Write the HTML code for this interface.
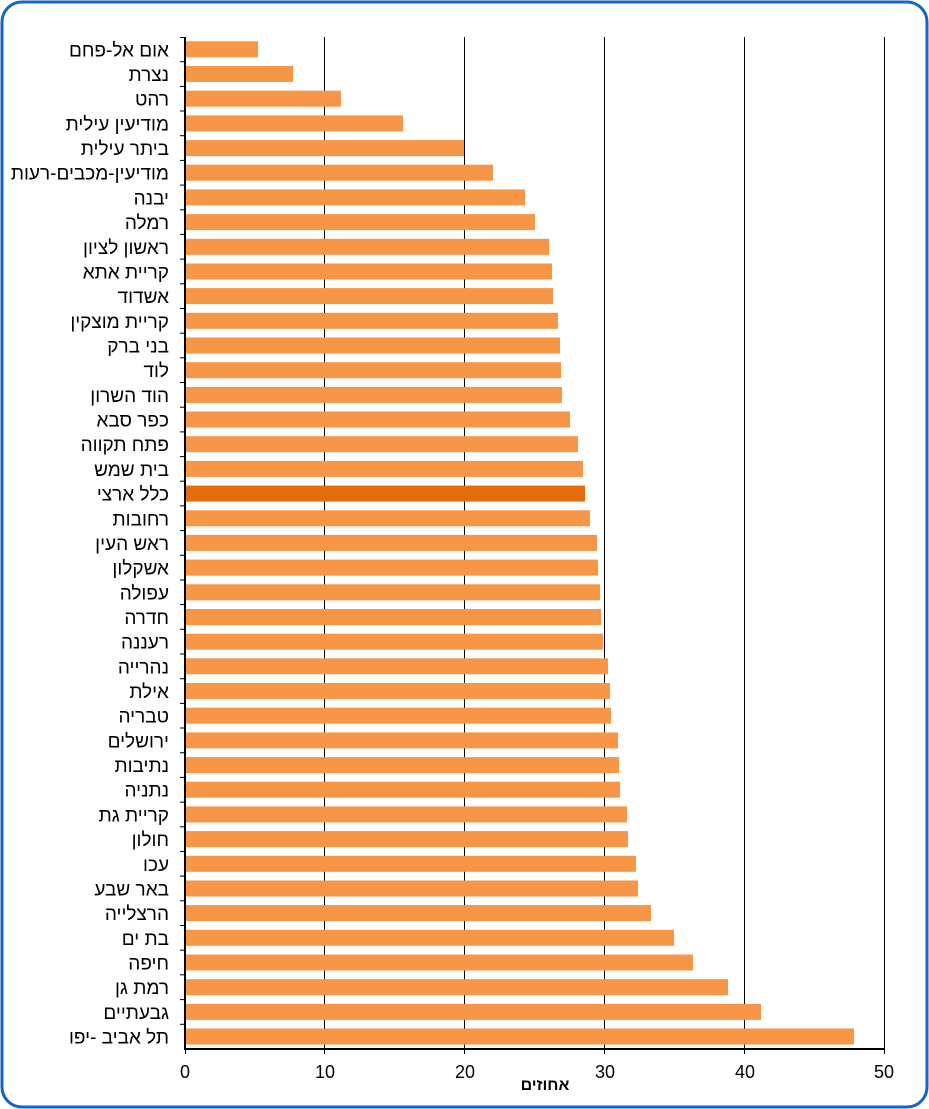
<!DOCTYPE html>
<html><head><meta charset="utf-8"><style>
html,body{margin:0;padding:0;background:#fff;}
svg{display:block;font-family:"Liberation Sans","Noto Sans CJK SC",sans-serif;}
</style></head><body>
<svg width="929" height="1109" viewBox="0 0 929 1109" xmlns="http://www.w3.org/2000/svg">
<rect x="2" y="2" width="925" height="1105" rx="20" ry="20" fill="#fff" stroke="#1565c8" stroke-width="3"/>
<g stroke="#000" stroke-width="1">
<line x1="324.5" y1="37" x2="324.5" y2="1049"/>
<line x1="464.5" y1="37" x2="464.5" y2="1049"/>
<line x1="604.5" y1="37" x2="604.5" y2="1049"/>
<line x1="744.5" y1="37" x2="744.5" y2="1049"/>
<line x1="884.5" y1="37" x2="884.5" y2="1049"/>
</g>
<g fill="#F79646">
<rect x="185" y="41.3" width="73" height="16"/>
<rect x="185" y="66.0" width="108" height="16"/>
<rect x="185" y="90.7" width="156" height="16"/>
<rect x="185" y="115.4" width="218" height="16"/>
<rect x="185" y="140.1" width="279" height="16"/>
<rect x="185" y="164.7" width="308" height="16"/>
<rect x="185" y="189.4" width="340" height="16"/>
<rect x="185" y="214.1" width="350" height="16"/>
<rect x="185" y="238.8" width="364" height="16"/>
<rect x="185" y="263.5" width="367" height="16"/>
<rect x="185" y="288.1" width="368" height="16"/>
<rect x="185" y="312.8" width="373" height="16"/>
<rect x="185" y="337.5" width="375" height="16"/>
<rect x="185" y="362.2" width="376" height="16"/>
<rect x="185" y="386.9" width="377" height="16"/>
<rect x="185" y="411.5" width="385" height="16"/>
<rect x="185" y="436.2" width="393" height="16"/>
<rect x="185" y="460.9" width="398" height="16"/>
<rect x="185" y="485.6" width="400" height="16" fill="#E46C0A"/>
<rect x="185" y="510.3" width="405" height="16"/>
<rect x="185" y="534.9" width="412" height="16"/>
<rect x="185" y="559.6" width="413" height="16"/>
<rect x="185" y="584.3" width="415" height="16"/>
<rect x="185" y="609.0" width="416" height="16"/>
<rect x="185" y="633.7" width="418" height="16"/>
<rect x="185" y="658.3" width="423" height="16"/>
<rect x="185" y="683.0" width="425" height="16"/>
<rect x="185" y="707.7" width="426" height="16"/>
<rect x="185" y="732.4" width="433" height="16"/>
<rect x="185" y="757.1" width="434" height="16"/>
<rect x="185" y="781.7" width="435" height="16"/>
<rect x="185" y="806.4" width="442" height="16"/>
<rect x="185" y="831.1" width="443" height="16"/>
<rect x="185" y="855.8" width="451" height="16"/>
<rect x="185" y="880.5" width="453" height="16"/>
<rect x="185" y="905.1" width="466" height="16"/>
<rect x="185" y="929.8" width="489" height="16"/>
<rect x="185" y="954.5" width="508" height="16"/>
<rect x="185" y="979.2" width="543" height="16"/>
<rect x="185" y="1003.9" width="576" height="16"/>
<rect x="185" y="1028.5" width="669" height="16"/>
</g>
<g stroke="#000" stroke-width="2">
<line x1="185" y1="37" x2="185" y2="1050"/>
<line x1="184" y1="1049" x2="885" y2="1049"/>
</g>
<g stroke="#000" stroke-width="1">
<line x1="180" y1="37.5" x2="185" y2="37.5"/>
<line x1="180" y1="61.7" x2="185" y2="61.7"/>
<line x1="180" y1="86.4" x2="185" y2="86.4"/>
<line x1="180" y1="111.0" x2="185" y2="111.0"/>
<line x1="180" y1="135.7" x2="185" y2="135.7"/>
<line x1="180" y1="160.4" x2="185" y2="160.4"/>
<line x1="180" y1="185.1" x2="185" y2="185.1"/>
<line x1="180" y1="209.8" x2="185" y2="209.8"/>
<line x1="180" y1="234.4" x2="185" y2="234.4"/>
<line x1="180" y1="259.1" x2="185" y2="259.1"/>
<line x1="180" y1="283.8" x2="185" y2="283.8"/>
<line x1="180" y1="308.5" x2="185" y2="308.5"/>
<line x1="180" y1="333.2" x2="185" y2="333.2"/>
<line x1="180" y1="357.8" x2="185" y2="357.8"/>
<line x1="180" y1="382.5" x2="185" y2="382.5"/>
<line x1="180" y1="407.2" x2="185" y2="407.2"/>
<line x1="180" y1="431.9" x2="185" y2="431.9"/>
<line x1="180" y1="456.6" x2="185" y2="456.6"/>
<line x1="180" y1="481.2" x2="185" y2="481.2"/>
<line x1="180" y1="505.9" x2="185" y2="505.9"/>
<line x1="180" y1="530.6" x2="185" y2="530.6"/>
<line x1="180" y1="555.3" x2="185" y2="555.3"/>
<line x1="180" y1="580.0" x2="185" y2="580.0"/>
<line x1="180" y1="604.6" x2="185" y2="604.6"/>
<line x1="180" y1="629.3" x2="185" y2="629.3"/>
<line x1="180" y1="654.0" x2="185" y2="654.0"/>
<line x1="180" y1="678.7" x2="185" y2="678.7"/>
<line x1="180" y1="703.4" x2="185" y2="703.4"/>
<line x1="180" y1="728.0" x2="185" y2="728.0"/>
<line x1="180" y1="752.7" x2="185" y2="752.7"/>
<line x1="180" y1="777.4" x2="185" y2="777.4"/>
<line x1="180" y1="802.1" x2="185" y2="802.1"/>
<line x1="180" y1="826.8" x2="185" y2="826.8"/>
<line x1="180" y1="851.4" x2="185" y2="851.4"/>
<line x1="180" y1="876.1" x2="185" y2="876.1"/>
<line x1="180" y1="900.8" x2="185" y2="900.8"/>
<line x1="180" y1="925.5" x2="185" y2="925.5"/>
<line x1="180" y1="950.2" x2="185" y2="950.2"/>
<line x1="180" y1="974.8" x2="185" y2="974.8"/>
<line x1="180" y1="999.6" x2="185" y2="999.6"/>
<line x1="180" y1="1024.3" x2="185" y2="1024.3"/>
<line x1="185.5" y1="1049" x2="185.5" y2="1054"/>
<line x1="324.5" y1="1049" x2="324.5" y2="1054"/>
<line x1="464.5" y1="1049" x2="464.5" y2="1054"/>
<line x1="604.5" y1="1049" x2="604.5" y2="1054"/>
<line x1="744.5" y1="1049" x2="744.5" y2="1054"/>
<line x1="884.5" y1="1049" x2="884.5" y2="1054"/>
</g>
<g font-size="19" fill="#000" text-anchor="end">
<text x="169" y="56.3">אום אל-פחם</text>
<text x="169" y="81.0">נצרת</text>
<text x="169" y="105.7">רהט</text>
<text x="169" y="130.4">מודיעין עילית</text>
<text x="169" y="155.1">ביתר עילית</text>
<text x="169" y="179.7">מודיעין-מכבים-רעות</text>
<text x="169" y="204.4">יבנה</text>
<text x="169" y="229.1">רמלה</text>
<text x="169" y="253.8">ראשון לציון</text>
<text x="169" y="278.5">קריית אתא</text>
<text x="169" y="303.1">אשדוד</text>
<text x="169" y="327.8">קריית מוצקין</text>
<text x="169" y="352.5">בני ברק</text>
<text x="169" y="377.2">לוד</text>
<text x="169" y="401.9">הוד השרון</text>
<text x="169" y="426.5">כפר סבא</text>
<text x="169" y="451.2">פתח תקווה</text>
<text x="169" y="475.9">בית שמש</text>
<text x="169" y="500.6">כלל ארצי</text>
<text x="169" y="525.3">רחובות</text>
<text x="169" y="549.9">ראש העין</text>
<text x="169" y="574.6">אשקלון</text>
<text x="169" y="599.3">עפולה</text>
<text x="169" y="624.0">חדרה</text>
<text x="169" y="648.7">רעננה</text>
<text x="169" y="673.3">נהרייה</text>
<text x="169" y="698.0">אילת</text>
<text x="169" y="722.7">טבריה</text>
<text x="169" y="747.4">ירושלים</text>
<text x="169" y="772.1">נתיבות</text>
<text x="169" y="796.7">נתניה</text>
<text x="169" y="821.4">קריית גת</text>
<text x="169" y="846.1">חולון</text>
<text x="169" y="870.8">עכו</text>
<text x="169" y="895.5">באר שבע</text>
<text x="169" y="920.1">הרצלייה</text>
<text x="169" y="944.8">בת ים</text>
<text x="169" y="969.5">חיפה</text>
<text x="169" y="994.2">רמת גן</text>
<text x="169" y="1018.9">גבעתיים</text>
<text x="169" y="1043.5">תל אביב -יפו</text>
</g>
<g font-size="18" fill="#000" text-anchor="middle">
<text x="185" y="1078">0</text>
<text x="325" y="1078">10</text>
<text x="465" y="1078">20</text>
<text x="605" y="1078">30</text>
<text x="745" y="1078">40</text>
<text x="884" y="1078">50</text>
</g>
<text x="545" y="1090" font-size="16" font-weight="bold" text-anchor="middle">אחוזים</text>
</svg>
</body></html>
